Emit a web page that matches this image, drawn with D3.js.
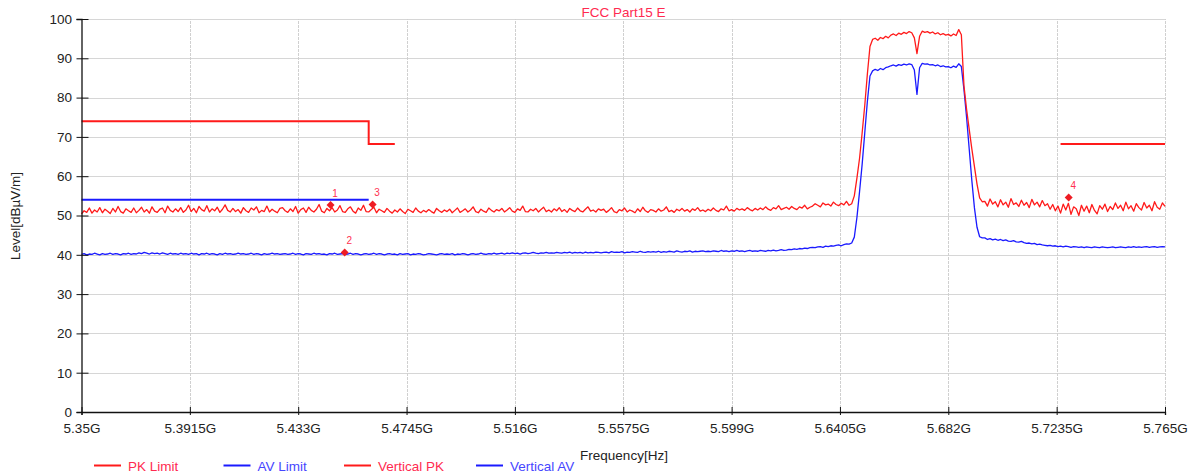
<!DOCTYPE html>
<html><head><meta charset="utf-8">
<script src="https://cdn.jsdelivr.net/npm/d3@7"></script>
<style>
body{margin:0;background:#fff;}
svg text{font-family:Arial,"Liberation Sans",sans-serif;}
</style>
</head><body>
<svg id="chart" width="1195" height="474"></svg>
<script>
// ---------------- data ----------------
const chartTitle = "FCC Part15 E";
const xAxisTitle = "Frequency[Hz]";
const yAxisTitle = "Level[dBµV/m]";
const xTickValues = [5.35,5.3915,5.433,5.4745,5.516,5.5575,5.599,5.6405,5.682,5.7235,5.765];
const xTickLabels = ["5.35G","5.3915G","5.433G","5.4745G","5.516G","5.5575G","5.599G","5.6405G","5.682G","5.7235G","5.765G"];
const yTickValues = [0,10,20,30,40,50,60,70,80,90,100];
const sweepStartGHz = 5.35, sweepStopGHz = 5.765;

const verticalPK = [
50.4,51.2,50.8,51.9,50.6,51.4,50.9,52.0,50.7,51.6,51.1,50.5,51.8,50.9,52.3,51.0,50.6,51.7,51.2,50.8,
51.9,50.7,51.3,52.1,50.9,51.5,50.6,52.2,51.1,50.8,51.6,51.9,50.7,52.4,51.3,50.9,51.7,51.0,52.0,50.8,
51.4,52.6,51.0,51.8,50.7,52.3,51.5,51.1,52.5,50.9,51.7,51.2,52.1,50.8,51.6,52.7,51.3,50.9,51.8,51.0,
51.5,50.6,52.0,51.2,50.8,51.9,51.4,52.2,50.7,51.3,51.0,52.4,50.9,51.6,51.1,50.7,51.8,52.0,51.2,50.8,
51.7,51.0,52.3,50.6,51.5,51.9,50.8,52.1,51.3,50.9,51.6,52.8,51.1,50.7,51.8,51.2,52.0,50.9,51.4,52.5,
51.0,50.8,51.7,52.2,51.1,50.6,51.9,51.3,52.6,51.0,50.9,51.5,52.1,50.7,51.6,51.2,50.8,51.8,51.1,50.6,
51.4,50.9,51.7,51.0,50.5,51.6,51.2,50.8,51.9,51.1,50.7,51.3,50.9,51.5,51.0,50.6,51.8,51.2,50.8,51.4,
51.0,51.6,50.7,51.3,51.9,50.8,51.2,51.7,50.9,51.4,52.2,51.0,50.7,51.6,51.1,50.8,51.9,51.3,50.9,51.5,
51.2,51.8,50.9,51.4,52.0,51.1,50.8,51.7,51.3,52.4,51.0,50.9,51.6,51.2,51.8,50.9,51.5,52.1,51.0,51.4,
50.9,51.7,51.2,52.0,51.0,51.5,50.8,51.8,51.3,51.0,51.9,51.2,50.9,51.6,52.2,51.1,51.4,50.9,51.7,51.3,
51.6,50.8,51.3,52.0,51.0,50.7,51.5,51.2,51.9,50.9,51.4,51.1,50.7,51.7,51.0,52.1,51.2,50.8,51.5,51.3,
50.9,51.7,51.1,51.4,52.2,51.0,51.3,50.8,51.6,51.2,51.8,51.1,51.5,50.9,51.7,51.3,52.0,51.1,51.4,51.0,
51.6,51.2,51.9,51.3,51.0,51.7,51.4,52.4,51.2,51.5,51.1,51.8,51.4,51.7,51.3,52.0,51.5,51.2,51.8,51.4,
51.9,51.5,52.2,51.6,51.3,52.0,51.7,52.5,51.5,51.8,52.1,51.6,52.3,51.8,51.5,52.2,51.9,52.6,51.7,52.1,
52.4,53.0,52.6,52.2,53.2,52.7,52.9,52.4,53.4,52.8,52.5,53.1,52.7,53.6,52.6,53.0,
55.0,59.5,64.5,71.0,78.0,86.0,93.0,
94.8,95.1,94.6,95.3,95.0,95.6,95.2,95.9,96.2,95.8,96.4,96.1,96.6,96.3,96.8,96.5,95.2,91.2,95.6,96.9,
96.6,96.8,96.4,96.7,96.2,96.5,96.0,96.3,95.9,96.1,95.7,96.2,95.8,97.3,96.0,
83.0,77.0,72.0,67.0,62.5,58.0,54.5,53.5,
53.6,52.4,54.2,52.9,53.5,52.2,54.0,52.7,53.4,52.1,54.3,52.8,53.2,52.3,53.9,52.6,53.3,52.0,54.1,52.7,
53.4,52.2,53.8,52.5,53.0,51.6,52.8,51.2,52.4,50.6,52.9,51.4,53.1,50.3,52.2,51.7,50.0,52.6,51.1,52.4,
50.7,52.8,51.3,50.4,52.5,51.6,52.9,51.0,52.3,51.5,53.2,51.8,52.6,51.2,53.4,51.7,52.5,51.1,53.0,52.0,
51.4,53.3,51.9,52.6,51.2,53.5,52.1,51.6,53.2,52.3
];

const verticalAV = [
40.1,40.3,40.0,40.2,40.1,40.4,40.2,40.0,40.3,40.1,40.2,40.4,40.1,40.3,40.2,40.0,40.3,40.2,40.4,40.1,
40.3,40.2,40.5,40.3,40.6,40.4,40.2,40.5,40.3,40.4,40.2,40.5,40.3,40.1,40.4,40.2,40.3,40.1,40.4,40.2,
40.3,40.1,40.4,40.2,40.3,40.0,40.3,40.2,40.4,40.1,40.3,40.2,40.0,40.3,40.1,40.4,40.2,40.3,40.1,40.2,
40.4,40.2,40.3,40.1,40.2,40.4,40.1,40.3,40.2,40.0,40.3,40.1,40.2,40.4,40.2,40.3,40.1,40.2,40.3,40.1,
40.2,40.4,40.1,40.3,40.2,40.0,40.3,40.2,40.1,40.4,40.2,40.3,40.1,40.2,40.0,40.3,40.2,40.4,40.1,40.2,
40.3,40.1,40.2,40.4,40.1,40.3,40.2,40.0,40.2,40.3,40.1,40.2,40.4,40.1,40.3,40.2,40.0,40.2,40.3,40.1,
40.2,40.0,40.3,40.1,40.2,40.3,40.0,40.2,40.1,40.3,40.2,40.0,40.1,40.3,40.2,40.1,40.0,40.2,40.3,40.1,
40.2,40.1,40.3,40.0,40.2,40.1,40.3,40.2,40.0,40.2,40.3,40.1,40.2,40.4,40.2,40.1,40.3,40.2,40.4,40.2,
40.3,40.4,40.2,40.4,40.3,40.5,40.3,40.4,40.2,40.4,40.5,40.3,40.4,40.6,40.4,40.3,40.5,40.4,40.6,40.4,
40.5,40.4,40.6,40.5,40.4,40.6,40.5,40.7,40.4,40.6,40.5,40.6,40.4,40.7,40.5,40.6,40.5,40.7,40.6,40.5,
40.6,40.7,40.5,40.8,40.6,40.7,40.6,40.8,40.5,40.7,40.6,40.8,40.7,40.6,40.9,40.7,40.6,40.8,40.7,40.8,
40.7,40.9,40.6,40.8,40.7,40.9,40.8,40.7,41.0,40.8,40.7,40.9,40.8,41.0,40.7,40.9,40.8,40.9,41.0,40.8,
40.9,40.8,41.0,40.9,40.8,41.1,40.9,41.0,40.8,41.0,40.9,41.1,40.9,41.0,40.8,41.0,41.1,40.9,41.0,40.9,
41.1,41.0,40.9,41.1,41.0,41.2,41.0,41.1,41.3,41.1,41.2,41.4,41.3,41.5,41.4,41.6,41.5,41.7,41.6,41.8,
41.9,41.8,42.0,42.1,41.9,42.2,42.1,42.3,42.2,42.4,42.5,42.3,42.6,42.8,42.7,43.0,
44.5,49.5,56.0,63.0,71.0,79.0,85.5,
86.8,87.2,86.9,87.4,87.1,87.6,87.8,88.1,88.3,88.0,88.4,88.2,88.5,88.3,88.6,88.4,87.0,80.8,87.6,88.7,
88.5,88.6,88.3,88.4,88.1,88.3,87.9,88.1,87.8,87.9,87.6,88.0,87.7,88.6,87.9,
82.0,75.0,67.0,59.0,52.0,47.0,44.6,44.3,
44.3,43.9,44.1,43.8,44.0,43.7,43.9,43.6,43.8,43.5,43.4,43.6,43.3,43.2,43.4,43.1,42.9,43.0,42.8,42.9,
42.6,42.7,42.5,42.4,42.3,42.4,42.2,42.3,42.1,42.2,42.0,42.2,42.1,41.9,42.1,42.0,41.9,42.0,41.8,42.0,
41.9,41.8,42.0,41.9,41.8,42.0,41.9,41.8,41.9,42.0,41.8,41.9,42.0,41.9,41.8,42.0,41.9,42.1,41.9,42.0,
41.9,42.0,42.1,41.9,42.0,42.1,41.9,42.0,42.1,42.0
];

// limit lines: [frequency GHz, level dBuV/m]
const pkLimitLow  = [[5.35,74],[5.46,74],[5.46,68.2],[5.47,68.2]];
const pkLimitHigh = [[5.725,68.2],[5.765,68.2]];
const avLimit     = [[5.35,54],[5.46,54]];

const markerIds    = ["1","2","3","4"];
const markerFreqs  = [5.4454,5.4508,5.4615,5.7281];
const markerLevels = [52.7,40.6,52.8,54.6];

const legendNames  = ["PK Limit","AV Limit","Vertical PK","Vertical AV"];
const legendColors = ["#ff1a1a","#1a1aff","#ff1a1a","#1a1aff"];
const legendTextColors = ["#ff2a50","#4646ff","#ff2a50","#4646ff"];

// ---------------- drawing ----------------
const svg = d3.select("#chart");
const W = 1195, H = 474;
const m = {left:81.5, right:W-1165, top:19, bottom:H-412};
const x = d3.scaleLinear().domain([sweepStartGHz, sweepStopGHz]).range([m.left, W-m.right]);
const y = d3.scaleLinear().domain([0,100]).range([H-m.bottom, m.top]);

const RED = "#ff1a1a", BLUE = "#1a1aff";

// grid
const grid = svg.append("g");
grid.selectAll("line.h").data(yTickValues.filter(d=>d>0)).enter().append("line")
  .attr("x1", x.range()[0]).attr("x2", x.range()[1])
  .attr("y1", d=>Math.round(y(d))+0.5).attr("y2", d=>Math.round(y(d))+0.5)
  .attr("stroke", "#d6d6d6").attr("stroke-width", 1);
grid.selectAll("line.v").data(xTickValues.slice(1)).enter().append("line")
  .attr("x1", d=>Math.round(x(d))+0.5).attr("x2", d=>Math.round(x(d))+0.5)
  .attr("y1", y(0)).attr("y2", y(100))
  .attr("stroke", "#d0d0d0").attr("stroke-width", 1).attr("stroke-dasharray","3,1");

// series
function sweep(vals){
  const n = vals.length;
  const step = (sweepStopGHz - sweepStartGHz)/(n-1);
  return vals.map((v,i)=>[sweepStartGHz + i*step, v]);
}
const line = d3.line().x(d=>x(d[0])).y(d=>y(d[1]));
const plot = svg.append("g");
plot.append("path").datum(sweep(verticalAV)).attr("d", line)
  .attr("fill","none").attr("stroke",BLUE).attr("stroke-width",1.3).attr("stroke-linejoin","round");
plot.append("path").datum(sweep(verticalPK)).attr("d", line)
  .attr("fill","none").attr("stroke",RED).attr("stroke-width",1.3).attr("stroke-linejoin","round");
[pkLimitLow, pkLimitHigh].forEach(seg=>{
  plot.append("path").datum(seg).attr("d", line)
    .attr("fill","none").attr("stroke",RED).attr("stroke-width",2);
});
plot.append("path").datum(avLimit).attr("d", line)
  .attr("fill","none").attr("stroke",BLUE).attr("stroke-width",2);

// markers
const diamond = d3.symbol().type(d3.symbolSquare).size(32);
markerIds.forEach((id,i)=>{
  const mx = x(markerFreqs[i]), my = y(markerLevels[i]);
  plot.append("path").attr("d", diamond).attr("transform", `translate(${mx},${my}) rotate(45)`)
    .attr("fill", "#ee1c24");
  plot.append("text").attr("x", mx+4.5).attr("y", my-8).attr("text-anchor","middle")
    .attr("font-size", 10).attr("fill", "#ff3050").text(id);
});

// axes
const yAxis = svg.append("g").attr("transform", `translate(${m.left},0)`)
  .call(d3.axisLeft(y).tickValues(yTickValues).tickSizeOuter(0).tickSize(5));
yAxis.select(".domain").attr("stroke","#111").attr("stroke-width",1.3);
yAxis.selectAll(".tick line").attr("x1", 7).attr("x2", -5).attr("stroke","#111");
yAxis.selectAll(".tick text").attr("x", -9.5).attr("font-size", 13.5).attr("fill","#222")
  .style("font-family","Arial, 'Liberation Sans', sans-serif");

const xAxis = svg.append("g").attr("transform", `translate(0,${y(0)})`)
  .call(d3.axisBottom(x).tickValues(xTickValues).tickFormat((d,i)=>xTickLabels[i]).tickSizeOuter(0).tickSize(3));
xAxis.select(".domain").attr("stroke","#111").attr("stroke-width",1.3);
xAxis.selectAll(".tick line").attr("y1", -5).attr("y2", 3).attr("stroke","#111");
xAxis.selectAll(".tick text").attr("y", 11).attr("font-size", 13.5).attr("fill","#222")
  .style("font-family","Arial, 'Liberation Sans', sans-serif");

// titles
svg.append("text").attr("x", 623.5).attr("y", 16.5).attr("text-anchor","middle")
  .attr("font-size", 13.5).attr("fill", "#ff2a50").text(chartTitle);
svg.append("text").attr("x", 624).attr("y", 460).attr("text-anchor","middle")
  .attr("font-size", 13.5).attr("fill", "#222").text(xAxisTitle);
svg.append("text").attr("transform", "translate(20,216) rotate(-90)").attr("text-anchor","middle")
  .attr("font-size", 13.5).attr("fill", "#222").text(yAxisTitle);

// legend
const legendX = [94, 223.5, 344, 476];
const lg = svg.append("g");
legendNames.forEach((name,i)=>{
  lg.append("line").attr("x1", legendX[i]).attr("x2", legendX[i]+27)
    .attr("y1", 465.5).attr("y2", 465.5).attr("stroke", legendColors[i]).attr("stroke-width", 2);
  lg.append("text").attr("x", legendX[i]+34).attr("y", 470.5)
    .attr("font-size", 13.5).attr("fill", legendTextColors[i]).text(name);
});
</script>
</body></html>
